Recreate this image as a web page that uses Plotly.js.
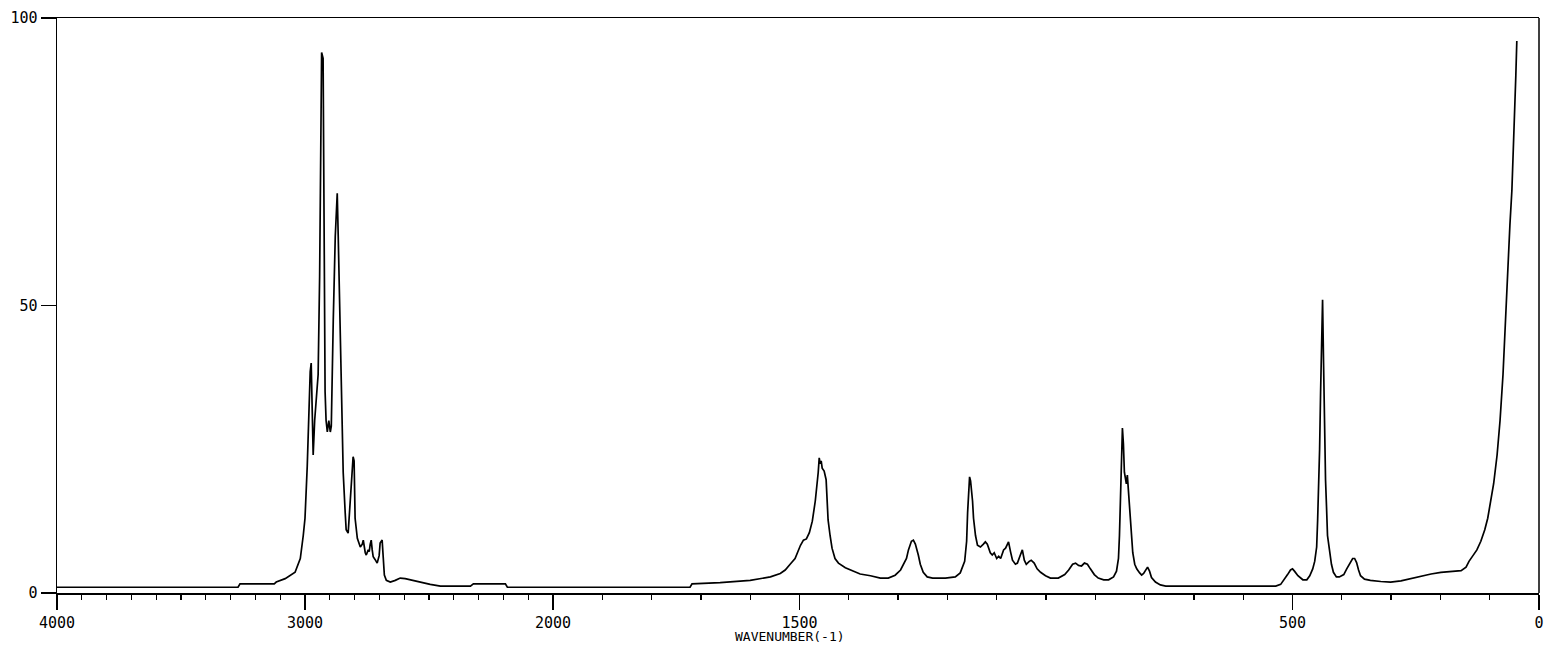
<!DOCTYPE html>
<html>
<head>
<meta charset="utf-8">
<script src="https://cdn.plot.ly/plotly-3.0.1.min.js"></script>
<style>
  html, body { margin: 0; padding: 0; background: #fff; }
  #chart { width: 1546px; height: 646px; }
</style>
</head>
<body>
<div id="chart"></div>
<script>
// Wavenumber (cm-1), descending
const wavenumber = [
  4000, 3423, 3270, 3262, 3124, 3116, 3080, 3040, 3019, 3007, 3000, 2991, 2983, 2979, 2975, 2971,
  2967, 2961, 2955, 2947, 2941, 2937, 2933, 2927, 2923, 2919, 2915, 2910, 2904, 2898, 2894, 2890,
  2886, 2878, 2874, 2870, 2866, 2862, 2854, 2850, 2846, 2838, 2834, 2826, 2822, 2818, 2810, 2806,
  2802, 2798, 2789, 2781, 2777, 2769, 2765, 2757, 2753, 2745, 2741, 2737, 2733, 2729, 2725, 2717,
  2709, 2701, 2697, 2689, 2685, 2680, 2672, 2656, 2636, 2616, 2596, 2575, 2535, 2495, 2454, 2333,
  2321, 2192, 2184, 2000,
  1722, 1718, 1661, 1600, 1559, 1539, 1529, 1519, 1509, 1498, 1492, 1486, 1480, 1474, 1468, 1462,
  1460, 1458, 1456, 1454, 1450, 1446, 1444, 1442, 1438, 1434, 1428, 1421, 1407, 1397, 1377, 1356,
  1336, 1320, 1306, 1295, 1289, 1283, 1279, 1273, 1269, 1265, 1259, 1255, 1249, 1241, 1230, 1204,
  1184, 1174, 1165, 1161, 1159, 1157, 1155, 1153, 1151, 1149, 1147, 1143, 1139, 1133, 1127, 1123,
  1119, 1113, 1109, 1105, 1100, 1096, 1092, 1086, 1082, 1076, 1072, 1068, 1062, 1058, 1052, 1048,
  1044, 1040, 1034, 1030, 1024, 1018, 1011, 1001, 991, 975, 962, 954, 946, 940, 934, 928,
  922, 916, 910, 902, 894, 883, 873, 863, 857, 853, 851, 849, 847, 845, 843, 841,
  839, 837, 835, 833, 831, 828, 824, 820, 816, 810, 806, 802, 798, 794, 790, 786,
  778, 768, 757, 686, 534, 524, 516, 510, 504, 500, 496, 489, 479, 471, 465, 459,
  455, 451, 449, 447, 445, 443, 441, 439, 437, 435, 433, 431, 429, 425, 421, 417,
  411, 405, 396, 390, 384, 378, 374, 370, 366, 362, 354, 342, 321, 301, 280, 260,
  240, 219, 199, 179, 158, 148, 142, 134, 126, 118, 110, 104, 98, 92, 85, 79,
  73, 69, 65, 63, 59, 55, 53, 51, 48, 47, 45
];
// Intensity (0-100) for each wavenumber above
const intensity = [
  1.0, 1.0, 1.0, 1.6, 1.6, 1.9, 2.5, 3.6, 6, 10, 13, 22, 36, 38.5, 40, 33,
  24, 30, 34, 38, 55, 76, 94, 93, 60, 35, 30, 28, 30, 28, 29, 40,
  47.5, 62, 67, 69.5, 62, 53.6, 42, 30, 21, 14, 11, 10.4, 13, 16, 21, 23.7,
  23, 13, 9.5, 8.5, 8, 8.5, 9.2, 7, 6.6, 7.5, 7.2, 8.5, 9.2, 7.5, 6.3, 5.8,
  5.2, 6.5, 8.7, 9.2, 6, 3.1, 2.2, 1.9, 2.2, 2.6, 2.5, 2.3, 1.8, 1.5, 1.2, 1.2,
  1.6, 1.6, 1.0, 1.0,
  1.0, 1.6, 1.8, 2.2, 2.8, 3.4, 4, 5, 6, 8.3, 9.2, 9.4, 10.5, 12.5, 16, 21,
  23.5, 22.5, 23, 21.7, 21.2, 19.7, 16, 12.7, 10, 7.8, 6, 5.2, 4.4, 4, 3.3, 3,
  2.6, 2.6, 3.1, 4, 4.9, 6, 7.5, 9, 9.2, 8.5, 6.6, 5, 3.6, 2.8, 2.6, 2.6,
  2.8, 3.5, 5.5, 9, 14, 18, 20.2, 19.5, 18, 16, 13, 10, 8.3, 8, 8.5, 8.9,
  8.5, 7, 6.6, 7, 6, 6.4, 6, 7.5, 7.8, 8.9, 7.2, 5.7, 5, 5.2, 6.6, 7.5,
  5.7, 5, 5.5, 5.7, 5.2, 4.2, 3.6, 3, 2.6, 2.6, 3.2, 4, 5, 5.2, 4.8, 4.7,
  5.2, 5, 4.2, 3.2, 2.6, 2.3, 2.3, 2.8, 3.8, 6, 10, 17, 23, 28.7, 26, 21,
  20, 19, 20.5, 18, 14.4, 11, 7, 5, 4.2, 3.5, 3.1, 3.4, 4, 4.5, 3.8, 2.7,
  1.9, 1.4, 1.2, 1.2, 1.2, 1.5, 2.4, 3.2, 4, 4.2, 3.8, 3, 2.3, 2.3, 3, 4.2,
  5.5, 8, 12.7, 18, 25, 35, 44, 51, 40, 26, 19.7, 15, 10, 7.5, 5, 3.6,
  2.8, 2.8, 3.2, 4.2, 5, 6, 6, 5.3, 4, 3, 2.4, 2.2, 2, 1.9, 2.1, 2.5,
  3, 3.3, 3.6, 3.8, 3.9, 4.5, 5.5, 6.5, 7.5, 9, 11, 13, 16, 19, 24, 30,
  38, 46, 52, 57, 64, 70, 75, 80, 84, 90, 96
];
const xTicksHigh = [4000, 3000];
const xTicksLow = [2000, 1500, 500, 0];
const yTicks = [0, 50, 100];
const axisTitle = "WAVENUMBER(-1)";

const splitAt = 2000;
const hiX = [], hiY = [], loX = [], loY = [];
wavenumber.forEach((w, i) => {
  if (w >= splitAt) { hiX.push(w); hiY.push(intensity[i]); }
  if (w <= splitAt) { loX.push(w); loY.push(intensity[i]); }
});

const lineStyle = { color: '#000', width: 1.7 };
const traces = [
  { x: hiX, y: hiY, type: 'scatter', mode: 'lines', line: lineStyle, xaxis: 'x', yaxis: 'y', hoverinfo: 'skip' },
  { x: loX, y: loY, type: 'scatter', mode: 'lines', line: lineStyle, xaxis: 'x2', yaxis: 'y', hoverinfo: 'skip' }
];

const tickFont = { family: 'DejaVu Sans Mono, monospace', size: 15, color: '#000' };
const split = (553 - 57) / (1539 - 57);
const xCommon = {
  showgrid: false, zeroline: false, showline: true, linecolor: '#000', linewidth: 1.5,
  mirror: true, ticks: 'outside', ticklen: 15, tickwidth: 1.5, tickcolor: '#000',
  tickmode: 'array', tickfont: tickFont, anchor: 'y',
  minor: { tickmode: 'linear', tick0: 0, dtick: 100, ticks: 'outside', ticklen: 5, tickwidth: 1.2, tickcolor: '#000', showgrid: false }
};

const layout = {
  width: 1546, height: 646,
  margin: { l: 57, r: 7, t: 18, b: 53 },
  paper_bgcolor: '#fff', plot_bgcolor: '#fff',
  showlegend: false,
  xaxis: Object.assign({}, xCommon, { domain: [0, split], range: [4000, 2000], tickvals: xTicksHigh, ticktext: xTicksHigh.map(String) }),
  xaxis2: Object.assign({}, xCommon, { domain: [split, 1], range: [2000, 0], tickvals: xTicksLow, ticktext: xTicksLow.map(String) }),
  yaxis: {
    range: [0, 100], showgrid: false, zeroline: false, showline: true, linecolor: '#000', linewidth: 1.5,
    mirror: false, ticks: 'outside', ticklen: 15, tickwidth: 1.5, tickcolor: '#000',
    tickmode: 'array', tickvals: yTicks, ticktext: yTicks.map(String), tickfont: tickFont
  },
  shapes: [{
    type: 'line', xref: 'paper', yref: 'paper', x0: 1, x1: 1, y0: 0, y1: 1,
    line: { color: '#000', width: 1.5 }
  }],
  annotations: [{
    text: axisTitle, xref: 'paper', yref: 'paper', x: (790 - 57) / 1482, y: -(636 - 593) / 575,
    xanchor: 'center', yanchor: 'middle', showarrow: false, borderpad: 0,
    font: { family: 'DejaVu Sans Mono, monospace', size: 13, color: '#000' }
  }]
};

Plotly.newPlot('chart', traces, layout, { staticPlot: true, displayModeBar: false });
</script>
</body>
</html>
